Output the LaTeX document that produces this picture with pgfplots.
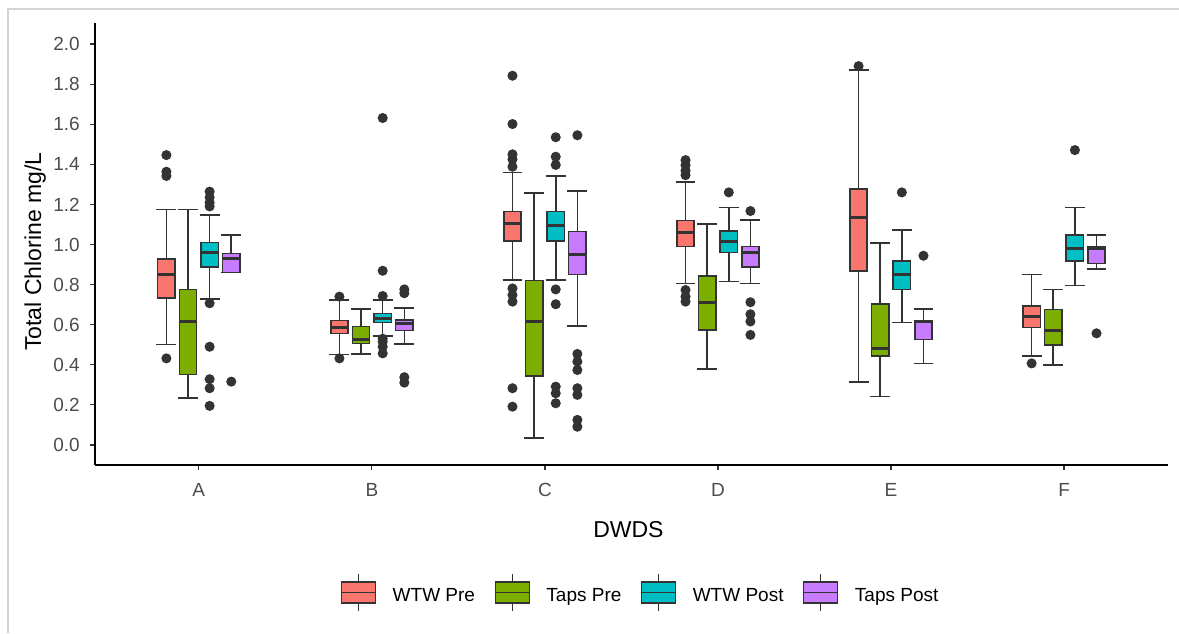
\documentclass[border=0pt]{standalone}
\usepackage{pgfplots}
\pgfplotsset{compat=1.18}
\usepgfplotslibrary{statistics}
\usepackage{fontspec}
\setmainfont{Liberation Sans}
\definecolor{cwp}{HTML}{F8766D}
\definecolor{ctp}{HTML}{7CAE00}
\definecolor{cwq}{HTML}{00BFC4}
\definecolor{ctq}{HTML}{C77CFF}
\definecolor{edge}{HTML}{333333}
\definecolor{frame}{HTML}{D4D4D4}
\pgfplotsset{
  bx/.style={solid, draw=edge, line width=1.4pt, fill=#1,
    mark=*, mark size=4.3pt, mark options={fill=edge, draw=none},
    legend image code/.code={
      \draw[##1, fill=none, line width=1.1pt] (17pt,-15.4pt) -- (17pt,21.6pt);
      \draw[##1, line width=1.4pt] (0pt,-7.4pt) rectangle (34pt,13.6pt);
      \draw[##1, line width=1.4pt] (0pt,3.1pt) -- (34pt,3.1pt);
    }},
  boxplot/draw direction=y,
  boxplot/box extend=0.1,
  boxplot/whisker extend=0.115,
  boxplot/every median/.style={line width=3pt},
  boxplot/every whisker/.style={line width=1.6pt, draw=edge},
  boxplot/every box/.style={line width=1.5pt},
}
\begin{document}
\begin{tikzpicture}
\begin{axis}[
  at={(0pt,0pt)}, anchor=south west,
  scale only axis, width=1073pt, height=442pt,
  xmin=0.4, xmax=6.6, ymin=-0.1, ymax=2.105,
  axis lines*=left,
  axis line style={black, line width=1.5pt},
  tick align=outside, major tick length=5pt,
  tick style={black!80, line width=1.2pt},
  xtick={1,2,3,4,5,6},
  xticklabels={A,B,C,D,E,F},
  ytick={0,0.2,0.4,0.6,0.8,1.0,1.2,1.4,1.6,1.8,2.0},
  /pgf/number format/assume math mode=true,
  /pgf/number format/fixed,
  /pgf/number format/fixed zerofill,
  /pgf/number format/precision=1,
  ticklabel style={font=\fontsize{19}{21}\selectfont, text=black!70},
  xticklabel style={anchor=north, inner sep=0pt, yshift=-13pt},
  yticklabel style={anchor=east, inner sep=0pt, xshift=-10pt},
  xlabel={DWDS},
  ylabel={Total Chlorine mg/L},
  label style={font=\fontsize{23}{25}\selectfont, text=black},
  xlabel style={at={(axis description cs:0.4972,-0.1636)}, anchor=base, inner sep=0pt},
  ylabel style={at={(axis description cs:-0.0503,0.4826)}, anchor=base, inner sep=0pt},
  legend columns=4,
  legend style={at={(0.5076,-0.2889)}, anchor=center, draw=none, fill=none,
    inner sep=0pt, font=\fontsize{19}{21}\selectfont,
    nodes={inner sep=0pt},
    /tikz/every odd column/.append style={column sep=16.5pt},
    /tikz/every even column/.append style={column sep=19.5pt}},
  legend cell align=left,
  clip=false,
]
% ---------------- A ----------------
\addplot[bx=cwp, boxplot prepared={draw position=0.8125, lower whisker=0.502, lower quartile=0.732, median=0.848, upper quartile=0.928, upper whisker=1.175}]
  table[row sep=\\, y index=0] {y\\ 1.446\\ 1.363\\ 1.342\\ 0.432\\};
\addlegendentry{WTW Pre}
\addplot[bx=ctp, boxplot prepared={draw position=0.9375, lower whisker=0.233, lower quartile=0.352, median=0.615, upper quartile=0.776, upper whisker=1.175}]
  coordinates {};
\addlegendentry{Taps Pre}
\addplot[bx=cwq, boxplot prepared={draw position=1.0625, lower whisker=0.728, lower quartile=0.889, median=0.961, upper quartile=1.009, upper whisker=1.147}]
  table[row sep=\\, y index=0] {y\\ 1.264\\ 1.235\\ 1.209\\ 1.19\\ 0.707\\ 0.49\\ 0.328\\ 0.283\\ 0.195\\};
\addlegendentry{WTW Post}
\addplot[bx=ctq, boxplot prepared={draw position=1.1875, lower whisker=0.861, lower quartile=0.861, median=0.93, upper quartile=0.956, upper whisker=1.047}]
  table[row sep=\\, y index=0] {y\\ 0.316\\};
\addlegendentry{Taps Post}
% ---------------- B ----------------
\addplot[forget plot, bx=cwp, boxplot prepared={draw position=1.8125, lower whisker=0.452, lower quartile=0.557, median=0.587, upper quartile=0.62, upper whisker=0.722}]
  table[row sep=\\, y index=0] {y\\ 0.74\\ 0.432\\};
\addplot[forget plot, bx=ctp, boxplot prepared={draw position=1.9375, lower whisker=0.454, lower quartile=0.507, median=0.527, upper quartile=0.59, upper whisker=0.677}]
  coordinates {};
\addplot[forget plot, bx=cwq, boxplot prepared={draw position=2.0625, lower whisker=0.544, lower quartile=0.61, median=0.632, upper quartile=0.657, upper whisker=0.722}]
  table[row sep=\\, y index=0] {y\\ 1.631\\ 0.869\\ 0.743\\ 0.53\\ 0.515\\ 0.49\\ 0.457\\};
\addplot[forget plot, bx=ctq, boxplot prepared={draw position=2.1875, lower whisker=0.504, lower quartile=0.57, median=0.607, upper quartile=0.623, upper whisker=0.682}]
  table[row sep=\\, y index=0] {y\\ 0.776\\ 0.757\\ 0.338\\ 0.311\\};
% ---------------- C ----------------
\addplot[forget plot, bx=cwp, boxplot prepared={draw position=2.8125, lower whisker=0.823, lower quartile=1.017, median=1.106, upper quartile=1.164, upper whisker=1.36}]
  table[row sep=\\, y index=0] {y\\ 1.842\\ 1.601\\ 1.45\\ 1.425\\ 1.388\\ 0.781\\ 0.748\\ 0.715\\ 0.283\\ 0.191\\};
\addplot[forget plot, bx=ctp, boxplot prepared={draw position=2.9375, lower whisker=0.036, lower quartile=0.344, median=0.615, upper quartile=0.82, upper whisker=1.258}]
  coordinates {};
\addplot[forget plot, bx=cwq, boxplot prepared={draw position=3.0625, lower whisker=0.823, lower quartile=1.017, median=1.097, upper quartile=1.164, upper whisker=1.342}]
  table[row sep=\\, y index=0] {y\\ 1.535\\ 1.438\\ 1.397\\ 0.776\\ 0.702\\ 0.291\\ 0.258\\ 0.208\\};
\addplot[forget plot, bx=ctq, boxplot prepared={draw position=3.1875, lower whisker=0.594, lower quartile=0.851, median=0.951, upper quartile=1.064, upper whisker=1.268}]
  table[row sep=\\, y index=0] {y\\ 1.545\\ 0.454\\ 0.416\\ 0.374\\ 0.283\\ 0.25\\ 0.125\\ 0.091\\};
% ---------------- D ----------------
\addplot[forget plot, bx=cwp, boxplot prepared={draw position=3.8125, lower whisker=0.806, lower quartile=0.989, median=1.061, upper quartile=1.119, upper whisker=1.313}]
  table[row sep=\\, y index=0] {y\\ 1.421\\ 1.396\\ 1.368\\ 1.346\\ 0.773\\ 0.74\\ 0.715\\};
\addplot[forget plot, bx=ctp, boxplot prepared={draw position=3.9375, lower whisker=0.379, lower quartile=0.574, median=0.71, upper quartile=0.843, upper whisker=1.101}]
  coordinates {};
\addplot[forget plot, bx=cwq, boxplot prepared={draw position=4.0625, lower whisker=0.816, lower quartile=0.961, median=1.017, upper quartile=1.067, upper whisker=1.184}]
  table[row sep=\\, y index=0] {y\\ 1.26\\};
\addplot[forget plot, bx=ctq, boxplot prepared={draw position=4.1875, lower whisker=0.806, lower quartile=0.889, median=0.959, upper quartile=0.989, upper whisker=1.121}]
  table[row sep=\\, y index=0] {y\\ 1.167\\ 0.712\\ 0.652\\ 0.616\\ 0.549\\};
% ---------------- E ----------------
\addplot[forget plot, bx=cwp, boxplot prepared={draw position=4.8125, lower whisker=0.314, lower quartile=0.869, median=1.134, upper quartile=1.277, upper whisker=1.87}]
  table[row sep=\\, y index=0] {y\\ 1.89\\};
\addplot[forget plot, bx=ctp, boxplot prepared={draw position=4.9375, lower whisker=0.241, lower quartile=0.445, median=0.482, upper quartile=0.702, upper whisker=1.009}]
  coordinates {};
\addplot[forget plot, bx=cwq, boxplot prepared={draw position=5.0625, lower whisker=0.61, lower quartile=0.776, median=0.848, upper quartile=0.918, upper whisker=1.072}]
  table[row sep=\\, y index=0] {y\\ 1.26\\};
\addplot[forget plot, bx=ctq, boxplot prepared={draw position=5.1875, lower whisker=0.407, lower quartile=0.527, median=0.615, upper quartile=0.622, upper whisker=0.677}]
  table[row sep=\\, y index=0] {y\\ 0.944\\};
% ---------------- F ----------------
\addplot[forget plot, bx=cwp, boxplot prepared={draw position=5.8125, lower whisker=0.445, lower quartile=0.585, median=0.643, upper quartile=0.693, upper whisker=0.851}]
  table[row sep=\\, y index=0] {y\\ 0.407\\};
\addplot[forget plot, bx=ctp, boxplot prepared={draw position=5.9375, lower whisker=0.399, lower quartile=0.499, median=0.57, upper quartile=0.677, upper whisker=0.776}]
  coordinates {};
\addplot[forget plot, bx=cwq, boxplot prepared={draw position=6.0625, lower whisker=0.796, lower quartile=0.918, median=0.979, upper quartile=1.047, upper whisker=1.185}]
  table[row sep=\\, y index=0] {y\\ 1.471\\};
\addplot[forget plot, bx=ctq, boxplot prepared={draw position=6.1875, lower whisker=0.879, lower quartile=0.906, median=0.98, upper quartile=0.989, upper whisker=1.047}]
  table[row sep=\\, y index=0] {y\\ 0.557\\};
\end{axis}
\draw[frame, line width=1.5pt] (-87pt,-168pt) -- (-87pt,456pt) -- (1084pt,456pt);
\pgfresetboundingbox
\path (-95pt,-168pt) rectangle (1084pt,465pt);
\end{tikzpicture}
\end{document}
